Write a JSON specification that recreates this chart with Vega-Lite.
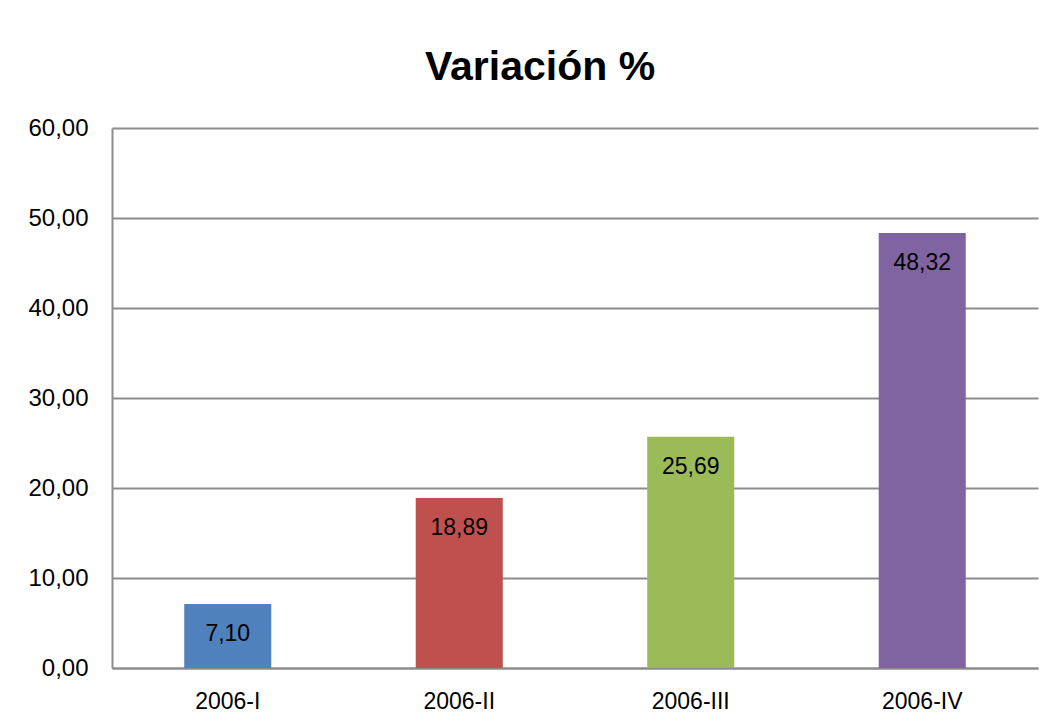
{
  "$schema": "https://vega.github.io/schema/vega-lite/v6.json",
  "width": 926,
  "height": 540,
  "autosize": {"type": "none"},
  "padding": {"left": 112, "top": 128, "right": 18, "bottom": 59},
  "background": "white",
  "config": {
    "locale": {"number": {"decimal": ",", "thousands": ".", "grouping": [3], "currency": ["", " €"]}},
    "view": {"stroke": null},
    "font": "Liberation Sans"
  },
  "title": {
    "text": "Variación %",
    "fontSize": 41,
    "fontWeight": "bold",
    "font": "Liberation Sans",
    "color": "#000000",
    "anchor": "middle",
    "dx": -35,
    "offset": 27
  },
  "data": {
    "values": [
      {"periodo": "2006-I", "valor": 7.10},
      {"periodo": "2006-II", "valor": 18.89},
      {"periodo": "2006-III", "valor": 25.69},
      {"periodo": "2006-IV", "valor": 48.32}
    ]
  },
  "encoding": {
    "x": {
      "field": "periodo",
      "type": "nominal",
      "sort": null,
      "scale": {"paddingInner": 0.624, "paddingOuter": 0.312},
      "axis": {
        "title": null,
        "labelAngle": 0,
        "labelFontSize": 23,
        "labelColor": "#000000",
        "labelPadding": 22,
        "ticks": false,
        "domainColor": "#8c8c8c",
        "domainWidth": 2
      }
    },
    "y": {
      "field": "valor",
      "type": "quantitative",
      "scale": {"domain": [0, 60], "nice": false},
      "axis": {
        "title": null,
        "values": [0, 10, 20, 30, 40, 50, 60],
        "format": ".2f",
        "labelFontSize": 24,
        "labelColor": "#000000",
        "labelPadding": 24,
        "ticks": false,
        "domainColor": "#8c8c8c",
        "domainWidth": 2,
        "gridColor": "#8c8c8c",
        "gridWidth": 2
      }
    }
  },
  "layer": [
    {
      "mark": {"type": "bar"},
      "encoding": {
        "color": {
          "field": "periodo",
          "type": "nominal",
          "sort": null,
          "scale": {"range": ["#4F81BD", "#C0504D", "#9BBB59", "#8064A2"]},
          "legend": null
        }
      }
    },
    {
      "mark": {"type": "text", "baseline": "middle", "align": "center", "dy": 30, "fontSize": 23, "color": "#000000"},
      "encoding": {
        "text": {"field": "valor", "type": "quantitative", "format": ".2f"}
      }
    }
  ]
}
